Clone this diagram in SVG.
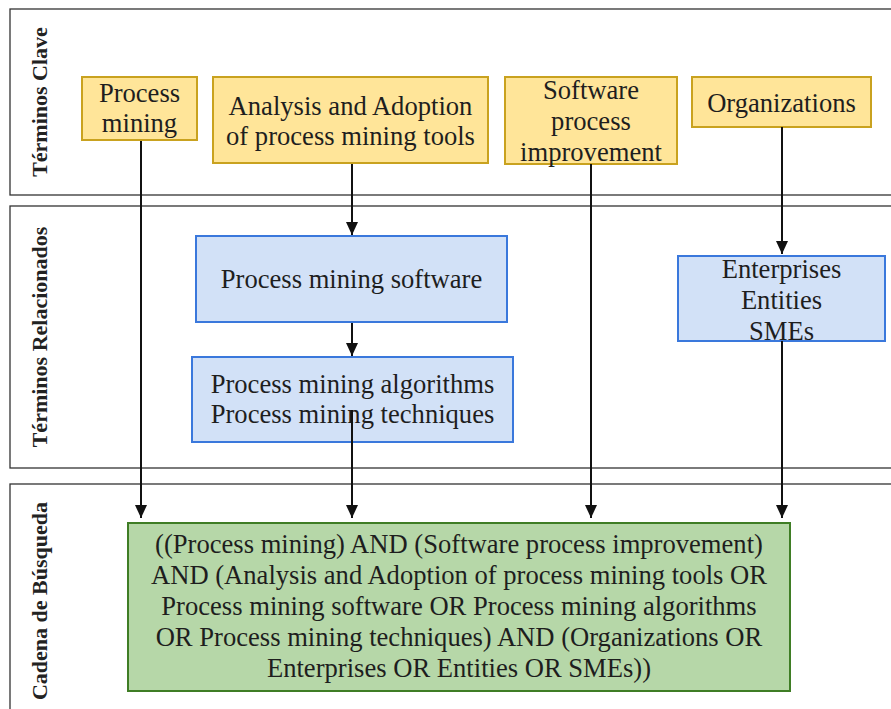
<svg xmlns="http://www.w3.org/2000/svg" width="891" height="709" viewBox="0 0 891 709">
<defs>
<style>
.lane{fill:#fff;stroke:#333;stroke-width:1.3}
.lbl{font-family:"Liberation Serif",serif;font-weight:bold;font-size:22px;fill:#222;text-anchor:middle}
.t{font-family:"Liberation Serif",serif;font-size:26.6px;fill:#1e1e1e;text-anchor:middle}
.y{fill:#ffe599;stroke:#c9a21f;stroke-width:2}
.b{fill:#d2e1f7;stroke:#3a78dc;stroke-width:2}
.g{fill:#b6d7a8;stroke:#3f7d25;stroke-width:2}
.c{stroke:#111;stroke-width:2;fill:none;marker-end:url(#ah)}
</style>
<marker id="ah" markerUnits="userSpaceOnUse" markerWidth="14" markerHeight="12" refX="13" refY="6" orient="auto" viewBox="0 0 14 12">
<path d="M0,0 L13,6 L0,12 Z" fill="#111"/>
</marker>
</defs>
<g id="lanes">
<rect class="lane" x="10" y="9" width="890" height="186"/>
<rect class="lane" x="10" y="206" width="890" height="262"/>
<rect class="lane" x="10" y="484" width="890" height="240"/>
<text class="lbl" transform="translate(47,102) rotate(-90)">Términos Clave</text>
<text class="lbl" transform="translate(47,337) rotate(-90)">Términos Relacionados</text>
<text class="lbl" transform="translate(47,601) rotate(-90)">Cadena de Búsqueda</text>
</g>
<g id="n-process-mining">
<rect class="y" x="82" y="77" width="115" height="63"/>
<text class="t" x="139.5" y="102">Process</text>
<text class="t" x="139.5" y="132">mining</text>
</g>
<g id="n-analysis">
<rect class="y" x="213" y="77" width="275" height="86"/>
<text class="t" x="350.5" y="115">Analysis and Adoption</text>
<text class="t" x="350.5" y="145">of process mining tools</text>
</g>
<g id="n-spi">
<rect class="y" x="505" y="77" width="172" height="87"/>
<text class="t" x="591" y="99">Software</text>
<text class="t" x="591" y="130">process</text>
<text class="t" x="591" y="161">improvement</text>
</g>
<g id="n-org">
<rect class="y" x="692" y="77" width="179" height="50"/>
<text class="t" x="781.5" y="112">Organizations</text>
</g>
<g id="n-pms">
<rect class="b" x="196" y="236" width="311" height="86"/>
<text class="t" x="351.5" y="288">Process mining software</text>
</g>
<g id="n-pma">
<rect class="b" x="192" y="357" width="321" height="85"/>
<text class="t" x="352.5" y="393">Process mining algorithms</text>
<text class="t" x="352.5" y="423">Process mining techniques</text>
</g>
<g id="n-ent">
<rect class="b" x="678" y="256" width="207" height="85"/>
<text class="t" x="781.5" y="278">Enterprises</text>
<text class="t" x="781.5" y="309">Entities</text>
<text class="t" x="781.5" y="340">SMEs</text>
</g>
<g id="n-search">
<rect class="g" x="128" y="523" width="662" height="168"/>
<text class="t" x="459" y="553">((Process mining) AND (Software process improvement)</text>
<text class="t" x="459" y="584">AND (Analysis and Adoption of process mining tools OR</text>
<text class="t" x="459" y="615">Process mining software OR Process mining algorithms</text>
<text class="t" x="459" y="646">OR Process mining techniques) AND (Organizations OR</text>
<text class="t" x="459" y="677">Enterprises OR Entities OR SMEs))</text>
</g>
<g id="connectors">
<line class="c" x1="141" y1="141" x2="141" y2="518"/>
<line class="c" x1="352" y1="164" x2="352" y2="235"/>
<line class="c" x1="352" y1="323" x2="352" y2="356"/>
<line class="c" x1="352" y1="410" x2="352" y2="518"/>
<line class="c" x1="591" y1="164" x2="591" y2="518"/>
<line class="c" x1="782" y1="127" x2="782" y2="254"/>
<line class="c" x1="782" y1="341" x2="782" y2="518"/>
</g>
</svg>
